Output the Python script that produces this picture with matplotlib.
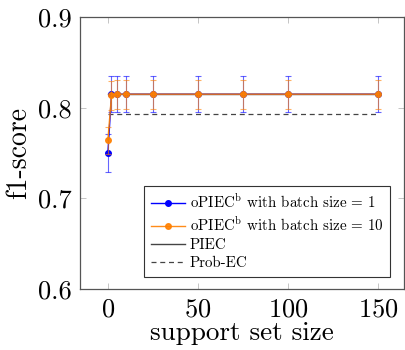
import matplotlib
matplotlib.use("Agg")
import matplotlib.pyplot as plt
import numpy as np

plt.rcParams['font.family'] = 'serif'
plt.rcParams['font.serif'] = ['cmr10', 'DejaVu Serif']
plt.rcParams['mathtext.fontset'] = 'cm'
plt.rcParams['axes.formatter.use_mathtext'] = True

# data
support = [0, 2, 5, 10, 25, 50, 75, 100, 150]
f1_b1 = [0.750, 0.815, 0.815, 0.815, 0.815, 0.815, 0.815, 0.815, 0.815]
err_b1 = [0.021, 0.020, 0.020, 0.020, 0.020, 0.020, 0.020, 0.020, 0.020]
f1_b10 = [0.764, 0.814, 0.815, 0.815, 0.815, 0.815, 0.815, 0.815, 0.815]
err_b10 = [0.015, 0.016, 0.016, 0.016, 0.016, 0.016, 0.016, 0.016, 0.016]
piec_x = [0, 150]
piec_y = [0.815, 0.815]
probec_x = [0, 150]
probec_y = [0.793, 0.793]

blue = '#0000ff'
orange = '#ff8000'

fig = plt.figure(figsize=(4.06, 3.5), dpi=100)
ax = fig.add_axes([0.197, 0.174, 0.798, 0.777])

ax.plot(piec_x, piec_y, color='#444444', linewidth=1.0, label='PIEC', zorder=2)
ax.plot(probec_x, probec_y, color='#444444', linewidth=0.9, linestyle=(0, (4, 3)),
        label='Prob-EC', zorder=2)

ax.errorbar(support, f1_b1, yerr=err_b1, fmt='none', ecolor=blue, alpha=0.6,
            elinewidth=0.8, capsize=2.5, capthick=0.8, zorder=3)
ax.plot(support, f1_b1, color=blue, linewidth=1.0, marker='o', markersize=4,
        label=r'oPIEC$^{\mathrm{b}}$ with batch size = 1', zorder=4)

ax.errorbar(support, f1_b10, yerr=err_b10, fmt='none', ecolor=orange, alpha=0.6,
            elinewidth=0.8, capsize=2.5, capthick=0.8, zorder=5)
ax.plot(support, f1_b10, color=orange, linewidth=1.0, marker='o', markersize=4,
        alpha=0.9, label=r'oPIEC$^{\mathrm{b}}$ with batch size = 10', zorder=6)

ax.set_xlim(-15.5, 164.5)
ax.set_ylim(0.6, 0.9)
ax.set_xticks([0, 50, 100, 150])
ax.set_yticks([0.6, 0.7, 0.8, 0.9])
ax.set_yticklabels(['0.6', '0.7', '0.8', '0.9'])
ax.tick_params(direction='in', length=4, width=0.6, color='#bbbbbb',
               top=True, right=True, labelsize=19, pad=6)
for s in ax.spines.values():
    s.set_color('#555555')
    s.set_linewidth(0.9)

ax.set_xlabel('support set size', fontsize=19.5, labelpad=0)
ax.set_ylabel('f1-score', fontsize=20, labelpad=4)

h, l = ax.get_legend_handles_labels()
order = [2, 3, 0, 1]
leg = ax.legend([h[i] for i in order], [l[i] for i in order],
                loc='lower right', bbox_to_anchor=(0.957, 0.044),
                borderaxespad=0, fancybox=False, framealpha=1,
                edgecolor='#333333', fontsize=10.8, handlelength=2.3,
                handletextpad=0.3, labelspacing=0.3, borderpad=0.45)
leg.get_frame().set_linewidth(0.8)

fig.savefig('out.png', dpi=100)
